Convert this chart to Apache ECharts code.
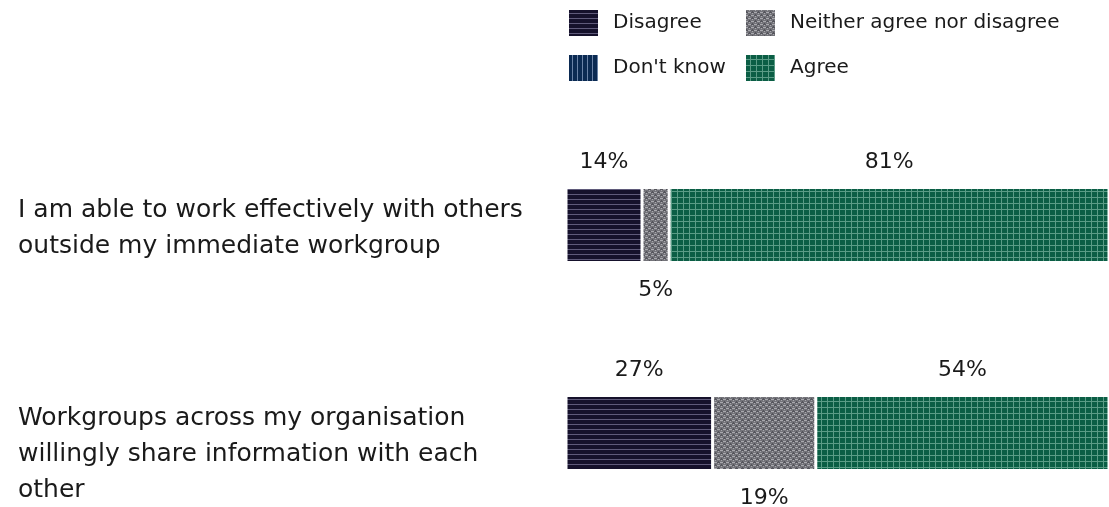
<!DOCTYPE html>
<html>
<head>
<meta charset="utf-8">
<script src="https://cdn.jsdelivr.net/npm/echarts@6/dist/echarts.min.js"></script>
<style>
  html, body { margin: 0; padding: 0; background: #fff; }
  #chart { width: 1109px; height: 507px; }
</style>
</head>
<body>
<div id="chart"></div>
<script>
// categories (top to bottom)
const categories = [
  'I am able to work effectively with others\noutside my immediate workgroup',
  'Workgroups across my organisation\nwillingly share information with each\nother'
]
// series values (%)
const disagree = [14, 27]
const dontKnow = [0, 0]
const neither = [5, 19]
const agree = [81, 54]

const FONT = 'DejaVu Sans'

/**
 * texture fills
 */
const makePattern = (size, draw) => {
  const c = document.createElement('canvas')
  c.width = size
  c.height = size
  const ctx = c.getContext('2d')
  draw(ctx, size)
  return { image: c, repeat: 'repeat' }
}
// horizontal stripes
const disagreeFill = makePattern(5, (ctx, s) => {
  ctx.fillStyle = '#15112b'
  ctx.fillRect(0, 0, s, s)
  ctx.fillStyle = '#5f5a7a'
  ctx.fillRect(0, 4, s, 1)
})
// vertical stripes
const dontKnowFill = makePattern(5, (ctx, s) => {
  ctx.fillStyle = '#0b2a52'
  ctx.fillRect(0, 0, s, s)
  ctx.fillStyle = '#6a82a6'
  ctx.fillRect(4, 0, 1, s)
})
// grey weave
const neitherFill = makePattern(6, (ctx, s) => {
  ctx.fillStyle = '#737379'
  ctx.fillRect(0, 0, s, s)
  ctx.fillStyle = '#a9a9ae'
  ctx.fillRect(0, 0, 3, 1)
  ctx.fillRect(3, 3, 3, 1)
  ctx.fillRect(4, 1, 1, 1)
  ctx.fillRect(1, 4, 1, 1)
  ctx.fillStyle = '#55555c'
  ctx.fillRect(3, 0, 3, 1)
  ctx.fillRect(0, 3, 3, 1)
  ctx.fillRect(1, 2, 1, 1)
  ctx.fillRect(4, 5, 1, 1)
})
// grid
const agreeFill = makePattern(6, (ctx, s) => {
  ctx.fillStyle = '#0b5e45'
  ctx.fillRect(0, 0, s, s)
  ctx.fillStyle = '#5a9c86'
  ctx.fillRect(0, 5, s, 1)
  ctx.fillRect(5, 0, 1, s)
})

const labelStyle = {
  show: true,
  fontFamily: FONT,
  fontSize: 22,
  color: '#1a1a1a',
  formatter: (p) => (p.value > 0 ? p.value + '%' : '')
}

const mChart = echarts.init(document.getElementById('chart'))

const makeSeries = (name, values, fill, pos) => ({
  name,
  type: 'bar',
  stack: 'Total',
  barWidth: 75,
  itemStyle: {
    color: fill,
    borderColor: '#fff',
    borderWidth: 1.5
  },
  label: { ...labelStyle, position: pos, distance: pos === 'bottom' ? 17 : 14 },
  emphasis: { disabled: true },
  data: values
})

const legendBase = {
  orient: 'vertical',
  top: 3,
  icon: 'rect',
  itemWidth: 31,
  itemHeight: 28,
  itemGap: 15,
  textStyle: { fontFamily: FONT, fontSize: 20, color: '#1a1a1a', padding: [0, 0, 0, 9] }
}

const options = {
  animation: false,
  legend: [
    { ...legendBase, left: 562, data: ['Disagree', "Don't know"] },
    { ...legendBase, left: 739, data: ['Neither agree nor disagree', 'Agree'] }
  ],
  grid: {
    top: 121,
    left: 566,
    right: 0,
    height: 416,
    containLabel: false,
    outerBoundsMode: 'none'
  },
  xAxis: {
    type: 'value',
    min: 0,
    max: 100,
    show: false
  },
  yAxis: {
    type: 'category',
    inverse: true,
    data: categories,
    axisLine: { show: false },
    axisTick: { show: false },
    axisLabel: {
      align: 'left',
      verticalAlign: 'top',
      padding: [-33, 0, 0, 0],
      margin: 548,
      fontFamily: FONT,
      fontSize: 25,
      lineHeight: 36,
      color: '#1a1a1a'
    }
  },
  series: [
    makeSeries('Disagree', disagree, disagreeFill, 'top'),
    makeSeries("Don't know", dontKnow, dontKnowFill, 'top'),
    makeSeries('Neither agree nor disagree', neither, neitherFill, 'bottom'),
    makeSeries('Agree', agree, agreeFill, 'top')
  ]
}
mChart.setOption(options)
</script>
</body>
</html>
